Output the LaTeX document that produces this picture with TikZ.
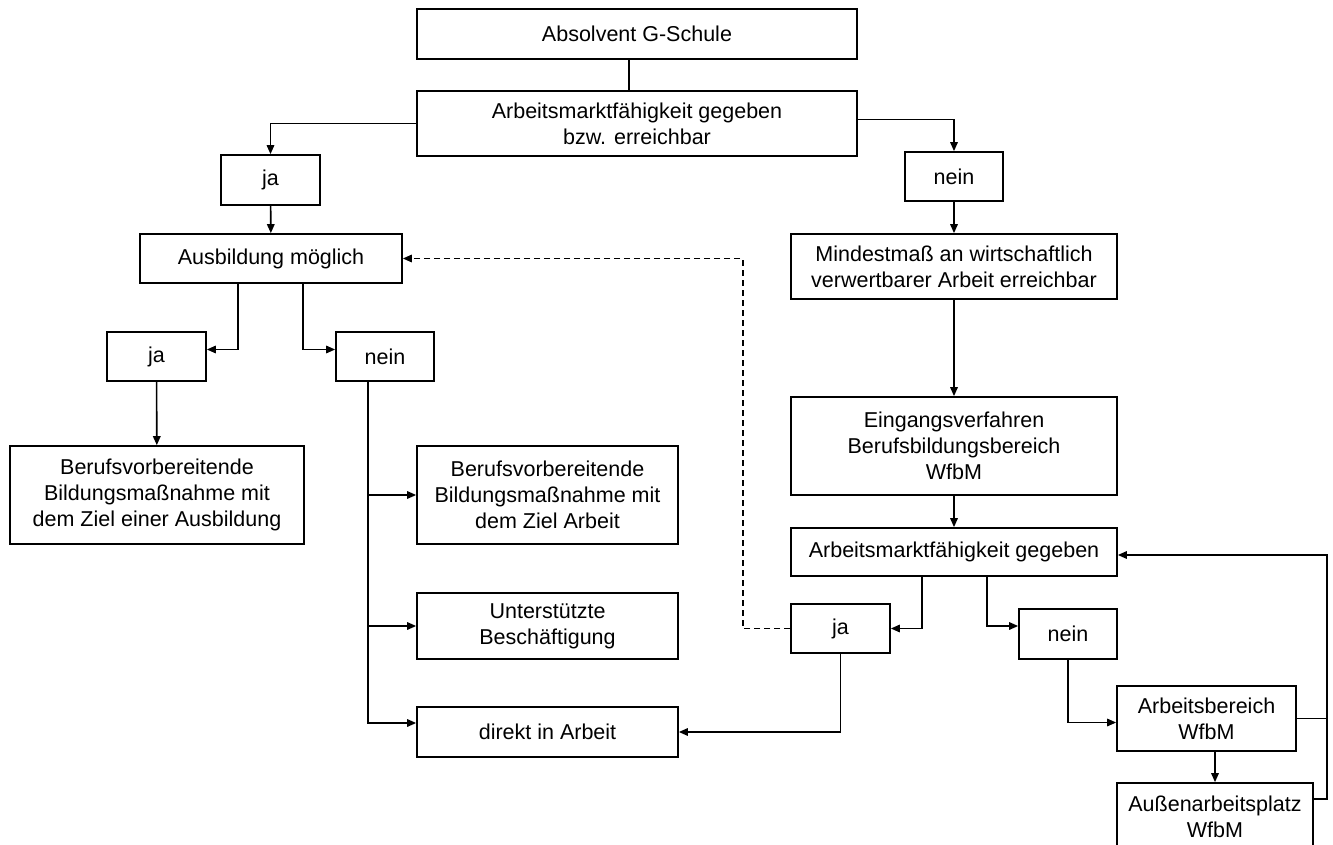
\documentclass[tikz,border=0pt]{standalone}
\usepackage{fontspec}
\setmainfont{Liberation Sans}
\usetikzlibrary{arrows.meta}

\begin{document}
\begin{tikzpicture}[x=1pt,y=-1pt]
\tikzstyle{box} = [draw, line width=1.7pt, align=center, inner sep=0pt, font=\fontsize{21.5}{26}\selectfont]
\tikzstyle{linie} = [line width=1.6pt]
\tikzstyle{pfeil} = [line width=1.6pt, -{Triangle[length=9pt,width=7.5pt]}]

\useasboundingbox (0,0) rectangle (1333,845);

% obere Ebene
\node[box, minimum width=440pt, minimum height=50pt] (absolvent) at (637,34) {Absolvent G-Schule};
\node[box, minimum width=440pt, minimum height=65pt] (amf1) at (637,123.5) {Arbeitsmarktfähigkeit gegeben\\bzw. erreichbar};
\node[box, minimum width=99pt, minimum height=50pt] (ja1) at (270.5,180) {ja};
\node[box, minimum width=98pt, minimum height=49pt] (nein1) at (954,176.5) {nein};

% linker Zweig
\node[box, minimum width=262pt, minimum height=49pt] (ausbildung) at (271,258.5) {Ausbildung möglich};
\node[box, minimum width=99pt, minimum height=49pt] (ja2) at (156.5,356.5) {ja};
\node[box, minimum width=98pt, minimum height=49pt] (nein2) at (385,356.5) {nein};
\node[box, minimum width=294pt, minimum height=98pt] (bv1) at (157,495) {Berufsvorbereitende\\Bildungsmaßnahme mit\\dem Ziel einer Ausbildung};
\node[box, minimum width=261pt, minimum height=98pt] (bv2) at (547.5,495) {Berufsvorbereitende\\Bildungsmaßnahme mit\\dem Ziel Arbeit};
\node[box, minimum width=261pt, minimum height=66pt] (unt) at (547.5,626) {Unterstützte\\Beschäftigung};
\node[box, minimum width=261pt, minimum height=50pt] (dirarbeit) at (547.5,732) {direkt in Arbeit};

% rechter Zweig
\node[box, minimum width=326pt, minimum height=65pt] (mindest) at (954,266.5) {Mindestmaß an wirtschaftlich\\verwertbarer Arbeit erreichbar};
\node[box, minimum width=326pt, minimum height=98pt] (eingang) at (954,446) {Eingangsverfahren\\Berufsbildungsbereich\\WfbM};
\node[box, minimum width=326pt, minimum height=48pt] (amf2) at (954,552) {Arbeitsmarktfähigkeit gegeben};
\node[box, minimum width=99pt, minimum height=49pt] (ja3) at (840.5,628.5) {ja};
\node[box, minimum width=98pt, minimum height=50pt] (nein3) at (1068,634) {nein};
\node[box, minimum width=179pt, minimum height=65pt] (abereich) at (1206.5,718.5) {Arbeitsbereich\\WfbM};
\node[box, minimum width=196pt, minimum height=68pt] (aussen) at (1215,817) {Außenarbeitsplatz\\WfbM};

\coordinate (stamm) at ([xshift=-17pt]nein2.south);
\coordinate (strich) at (743,0);
\coordinate (rueck) at (1327,555);

% Verbindungen
\draw[linie] ([xshift=-8pt]absolvent.south) -- ([xshift=-8pt]amf1.north);
\draw[pfeil] (amf1.west) -| (ja1.north);
\draw[pfeil] ([yshift=4pt]amf1.east) -| (nein1.north);
\draw[pfeil] (ja1) -- (ausbildung);
\draw[pfeil] (nein1) -- (mindest);
\draw[pfeil] ([xshift=-33pt]ausbildung.south) |- ([yshift=7pt]ja2.east);
\draw[pfeil] ([xshift=32pt]ausbildung.south) |- ([yshift=7pt]nein2.west);
\draw[pfeil] (ja2) -- (bv1);
\draw[pfeil] (stamm) |- ([yshift=9pt]dirarbeit.west);
\draw[pfeil] (stamm |- bv2.west) -- (bv2.west);
\draw[pfeil] (stamm |- unt.west) -- (unt.west);
\draw[pfeil] (mindest) -- (eingang);
\draw[pfeil] (eingang) -- (amf2);
\draw[pfeil] ([xshift=-32pt]amf2.south) |- (ja3.east);
\draw[pfeil] ([xshift=33pt]amf2.south) |- ([yshift=8pt]nein3.west);
\draw[pfeil] (ja3.south) |- (dirarbeit.east);
\draw[pfeil] (nein3.south) |- ([yshift=-4pt]abereich.west);
\draw[pfeil] (aussen.north |- abereich.south) -- (aussen.north);
\draw[linie] (abereich.east) -- (abereich.east -| rueck);
\draw[pfeil] ([yshift=18pt]aussen.east) -| (rueck) -- (rueck -| amf2.east);
\draw[pfeil, dash pattern=on 6pt off 4pt] (ja3.west) -| (strich |- ausbildung.east) -- (ausbildung.east);

\end{tikzpicture}
\end{document}
